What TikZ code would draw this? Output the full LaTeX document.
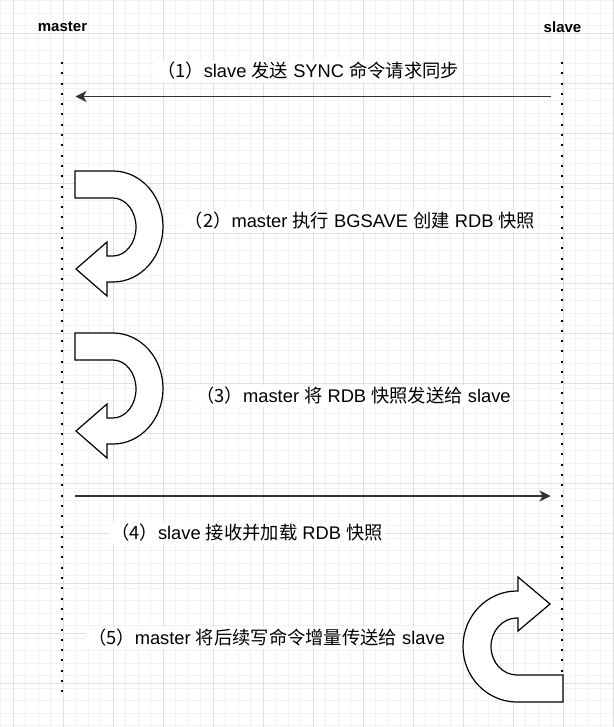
\documentclass[tikz,border=0pt]{standalone}
\usepackage{fontspec}
\setmainfont{Liberation Sans}
\newfontfamily\cjk{Noto Sans CJK SC}
\usetikzlibrary{arrows.meta}
\newcommand\zh[1]{{\cjk #1}}
\definecolor{gridminor}{HTML}{F2F2F2}
\definecolor{gridmajor}{HTML}{DFDFDF}
\definecolor{linecol}{HTML}{333333}
\newcommand\UturnLeftShape{%
  (75,171) -- (113,171)
  .. controls (140.6,171) and (163,195.8) .. (163,226.5)
  .. controls (163,257.2) and (140.6,282) .. (113,282)
  -- (107,282) -- (107,296) -- (76,269) -- (107,242) -- (107,256) -- (113,256)
  .. controls (125.7,256) and (136,243) .. (136,227)
  .. controls (136,211) and (125.7,198) .. (113,198)
  -- (75,198) -- cycle}
\begin{document}
\begin{tikzpicture}[x=1pt,y=-1pt,
  lbl/.style={fill=white, inner sep=2.5pt, font=\fontsize{18.3}{22}\selectfont, text=black},
  head/.style={font=\bfseries\fontsize{15}{18}\selectfont, text=black, inner sep=0pt},
  lifeline/.style={line width=2pt, dash pattern=on 2pt off 8.3pt, black},
  msg/.style={line width=1.3pt, draw=linecol, -{Stealth[length=11pt,width=11pt,inset=3pt]}},
  uturn/.style={draw=black, line width=1.2pt, fill=white, line join=miter}]
\useasboundingbox (0,0) rectangle (613,727);
\fill[white] (0,0) rectangle (613,727);
% grid
\foreach \i in {0,...,49} \draw[gridminor, line width=1pt] ({0.83+12.5*\i},0) -- ({0.83+12.5*\i},727);
\foreach \i in {0,...,58} \draw[gridminor, line width=1pt] (0,{0.83+12.5*\i}) -- (613,{0.83+12.5*\i});
\foreach \i in {0,...,12} \draw[gridmajor, line width=1pt] ({13.33+50*\i},0) -- ({13.33+50*\i},727);
\foreach \i in {0,...,14} \draw[gridmajor, line width=1pt] (0,{33.33+50*\i}) -- (613,{33.33+50*\i});
% headings
\node[head] (hm) at (62.5,27) {master};
\node[head] (hs) at (562.5,27) {slave};
% lifelines
\coordinate (mtop) at (62.3,62);
\coordinate (mbot) at (62.3,697);
\coordinate (stop) at (562.3,62);
\coordinate (sbot) at (562.3,697);
\draw[lifeline] (mtop) -- (mbot);
\draw[lifeline] (stop) -- (sbot);
% u-turn arrows
\draw[uturn] \UturnLeftShape;
\begin{scope}[yshift=-162pt]
\draw[uturn] \UturnLeftShape;
\end{scope}
\draw[uturn] (563,675) -- (563,702) -- (517,702)
  .. controls (487.2,702) and (463,677.2) .. (463,646.5)
  .. controls (463,615.8) and (487.2,591) .. (517,591)
  -- (518,591) -- (518,577) -- (550,604) -- (518,631) -- (518,618) -- (517,618)
  .. controls (502.6,618) and (491,630.8) .. (491,646.5)
  .. controls (491,662.2) and (502.6,675) .. (517,675) -- cycle;
% messages
\coordinate (a1s) at (551,96.5);
\coordinate (a1e) at (75.5,96.5);
\coordinate (a4s) at (75,496);
\coordinate (a4e) at (550.5,496);
\draw[msg] (a1s) -- (a1e);
\draw[msg] (a4s) -- (a4e);
% labels
\node[lbl] (l1) at (308,71) {\zh{（1）}slave \zh{发送} SYNC \zh{命令请求同步}};
\node[lbl] (l2) at (360,221) {\zh{（2）}master \zh{执行} BGSAVE \zh{创建} RDB \zh{快照}};
\node[lbl] (l3) at (353.5,396) {\zh{（3）}master \zh{将} RDB \zh{快照发送给} slave};
\node[lbl] (l4) at (247,533) {\zh{（4）}slave \zh{接收并加载} RDB \zh{快照}};
\node[lbl] (l5) at (266.5,638) {\zh{（5）}master \zh{将后续写命令增量传送给} slave};
\end{tikzpicture}
\end{document}
